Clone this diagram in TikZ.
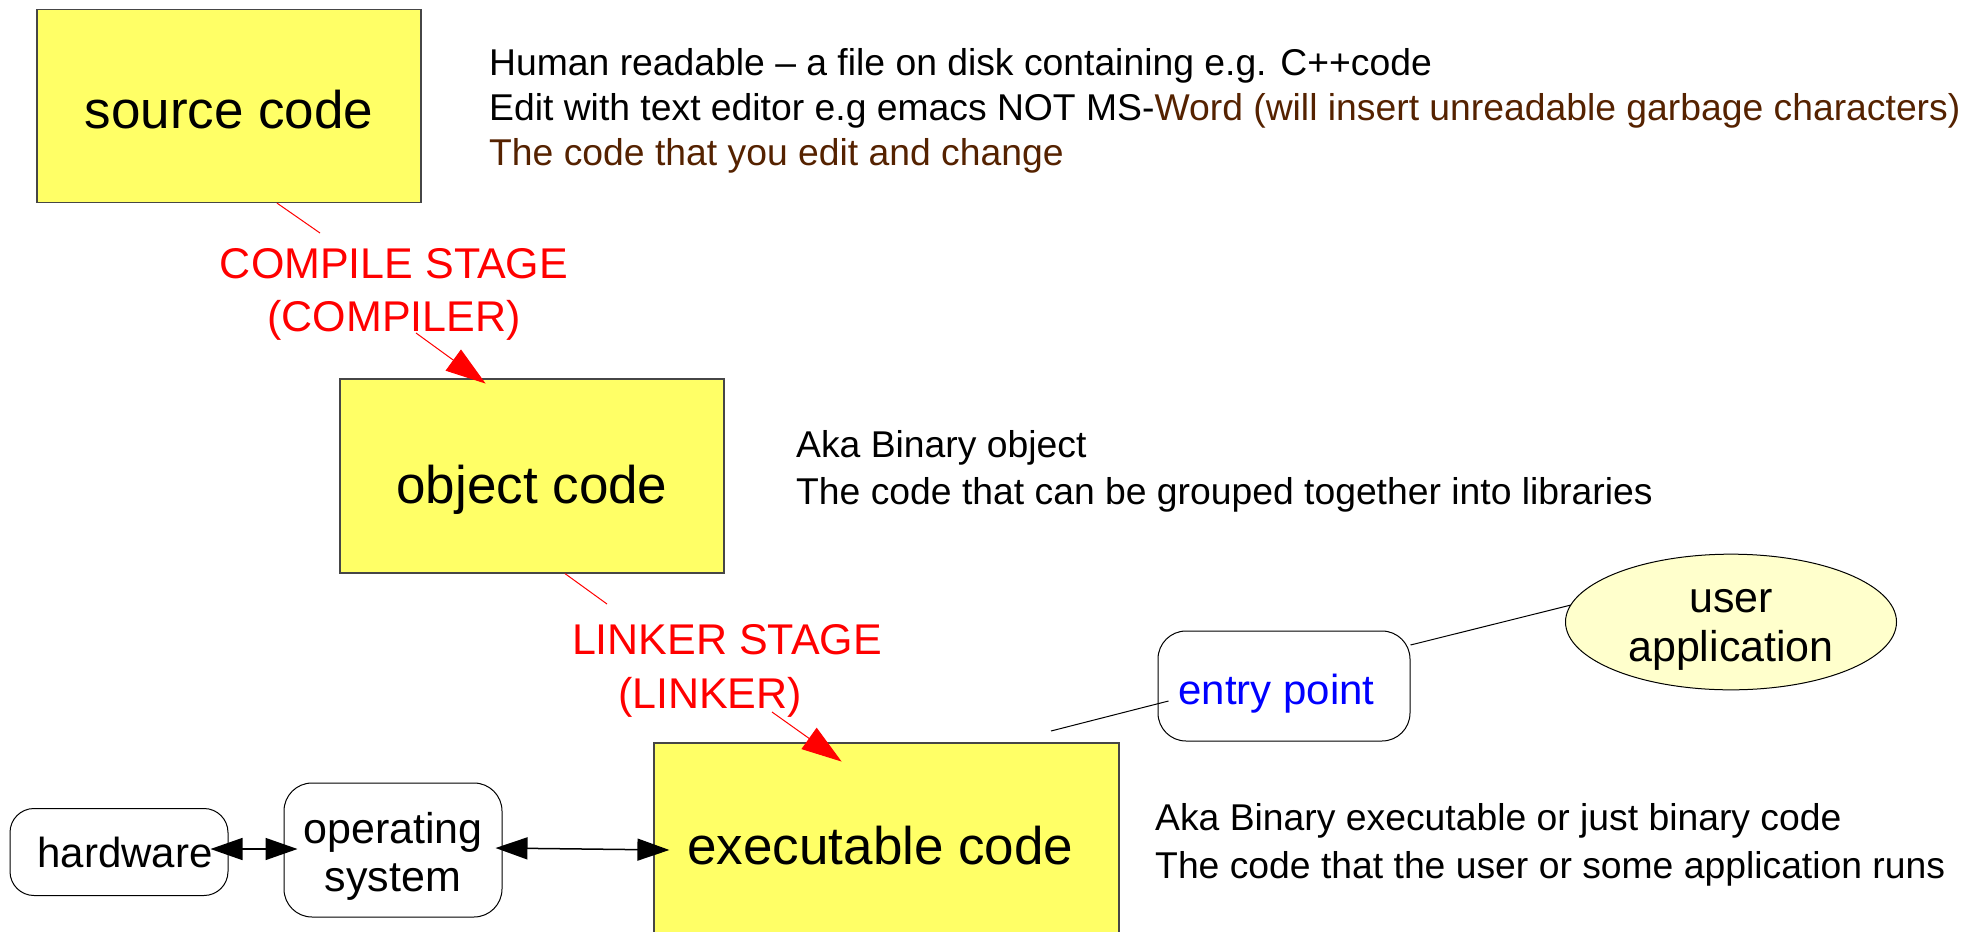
\documentclass[tikz,border=0pt]{standalone}
\usepackage{fontspec}
\setmainfont{Liberation Sans}
\usetikzlibrary{arrows.meta,shapes.geometric}
\definecolor{boxyellow}{RGB}{255,255,102}
\definecolor{paleyellow}{RGB}{255,255,204}
\definecolor{notebrown}{RGB}{85,34,0}
\definecolor{boxgray}{RGB}{70,70,70}
\begin{document}
\begin{tikzpicture}[x=1pt,y=-1pt,
  codebox/.style={draw=boxgray, line width=1.2pt, fill=boxyellow, minimum width=384pt,
    minimum height=193pt, inner sep=0pt, font=\fontsize{53}{64}\selectfont},
  roundbox/.style={draw=black, line width=1pt, rounded corners=28pt, fill=white, inner sep=0pt,
    font=\fontsize{42}{52}\selectfont, align=center},
  stagelbl/.style={text=red, font=\fontsize{43}{53}\selectfont, align=center, inner sep=0pt},
  note/.style={anchor=base west, inner sep=0pt, font=\fontsize{37.3}{44}\selectfont},
  redlink/.style={draw=red, line width=1pt},
  redarrow/.style={redlink, -{Triangle[length=40pt,width=26pt]}, shorten >=-2pt},
  bothway/.style={line width=1.5pt, {Triangle[length=32pt,width=22pt]}-{Triangle[length=32pt,width=22pt]}},
  thinline/.style={draw=black, line width=1pt}]
\useasboundingbox (0,0) rectangle (1982,932);
\fill[white] (0,0) rectangle (1982,932);
\clip (0,0) rectangle (1982,932);

% the three code stages
\node[codebox, text height=44.5pt, text depth=0pt] (src) at (229,106) {source code};
\node[codebox, minimum height=194pt, text height=66pt, text depth=11pt] (obj) at (532,476) {object code};
\node[codebox, minimum width=465pt, minimum height=206pt] (exe) at (886.5,846) {executable code\hspace*{12pt}};

% stage labels
\node[stagelbl] (clbl) at (394,294) {COMPILE STAGE\\(COMPILER)};
\node[stagelbl, font=\fontsize{43}{54}\selectfont] (llbl) at (727,670.5) {LINKER STAGE\\(LINKER)\hspace*{34pt}};

% surrounding parts
\node[roundbox, rounded corners=24pt, minimum width=218pt, minimum height=87pt] (hw) at (119,852) {\hspace*{12pt}hardware};
\node[roundbox, minimum width=218pt, minimum height=134pt, font=\fontsize{43}{48}\selectfont] (os) at (393,850)
  {\rule{0pt}{43pt}operating\\system};
\node[roundbox, minimum width=252pt, minimum height=110pt, text=blue, text height=45pt] (entry) at (1284,686)
  {entry point\hspace*{15pt}};
\node[ellipse, draw=black, line width=1pt, fill=paleyellow, minimum width=331pt, minimum height=124pt,
  inner sep=0pt, align=center, font=\fontsize{43}{49}\selectfont] (user) at (1731,622)
  {\rule{0pt}{38pt}user\\application};

% stage connectors
\draw[redlink] ([xshift=48pt]src.south) -- ([xshift=-74pt,yshift=61pt]clbl.center);
\draw[redarrow] ([xshift=22pt,yshift=-39pt]clbl.center) -- ([xshift=-48pt,yshift=-4pt]obj.north);
\draw[redlink] ([xshift=33pt]obj.south) -- ([xshift=-120pt,yshift=66.5pt]llbl.center);
\draw[redarrow] ([xshift=45pt,yshift=-41.5pt]llbl.center) -- ([xshift=-46.5pt,yshift=-18pt]exe.north);

% run-time links
\draw[bothway] ([xshift=-18pt,yshift=3pt]hw.east) -- ([xshift=14pt,yshift=1pt]os.west);
\draw[bothway] ([xshift=-7pt,yshift=2pt]os.east) -- ([xshift=16pt,yshift=-4pt]exe.west);
\coordinate (tap) at (1051,731);
\draw[thinline] (tap) -- ([xshift=11pt,yshift=-15pt]entry.west);
\draw[thinline] ([yshift=41pt]entry.east) -- ([xshift=6pt,yshift=17pt]user.west);

% notes
\node[note] (n1) at (489,75) {Human readable – a file on disk containing e.g. C++code};
\node[note] (n2) at (489,120) {Edit with text editor e.g emacs NOT MS-\textcolor{notebrown}{Word (will insert unreadable garbage characters)}};
\node[note, text=notebrown] (n3) at (489,165) {The code that you edit and change};
\node[note] (n4) at (796,457) {Aka Binary object};
\node[note] (n5) at (796,504) {The code that can be grouped together into libraries};
\node[note] (n6) at (1155,830) {Aka Binary executable or just binary code};
\node[note] (n7) at (1155,878) {The code that the user or some application runs};
\end{tikzpicture}
\end{document}
